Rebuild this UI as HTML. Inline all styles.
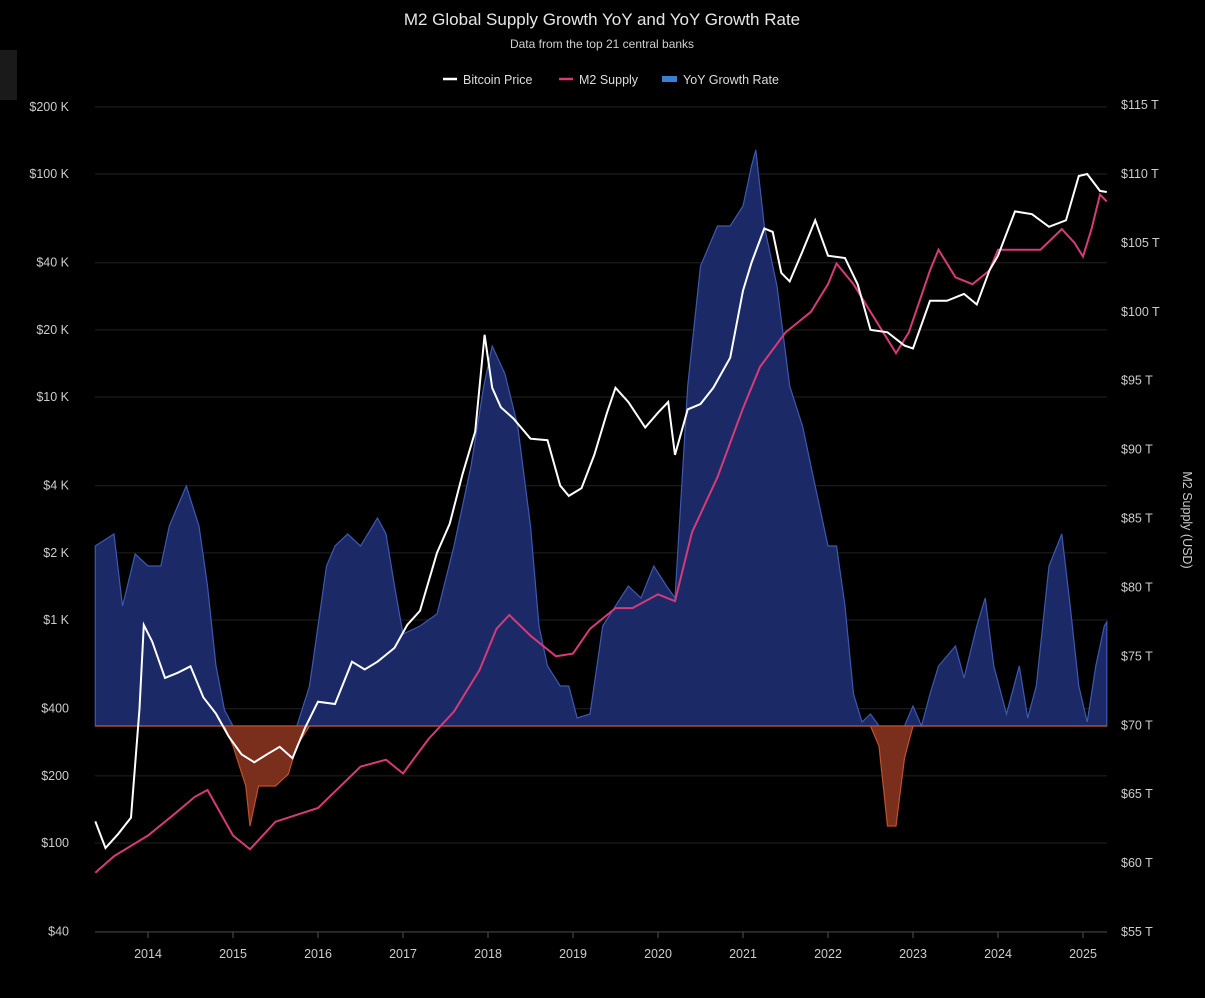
<!DOCTYPE html>
<html><head><meta charset="utf-8"><style>
html,body{margin:0;padding:0;background:#000;}
body{width:1205px;height:993px;overflow:hidden;font-family:"Liberation Sans",sans-serif;}
svg text{font-family:"Liberation Sans",sans-serif;}
</style></head><body>
<svg id="chart" width="1205" height="993" viewBox="0 0 1205 993" xmlns="http://www.w3.org/2000/svg">
<rect x="0" y="0" width="1205" height="993" fill="#000"/>
<rect x="0" y="50" width="17" height="50" fill="#1a1a1a"/>
<text x="602" y="25" fill="#e6e6e6" font-size="17" text-anchor="middle">M2 Global Supply Growth YoY and YoY Growth Rate</text>
<text x="602" y="48" fill="#cfcfcf" font-size="12" text-anchor="middle">Data from the top 21 central banks</text>
<g>
 <g><line x1="443" y1="79" x2="457" y2="79" stroke="#fff" stroke-width="2.5"/><text x="463" y="84" fill="#ddd" font-size="12.5">Bitcoin Price</text></g>
 <g><line x1="559" y1="79" x2="573" y2="79" stroke="#d63a78" stroke-width="2.5"/><text x="579" y="84" fill="#ddd" font-size="12.5">M2 Supply</text></g>
 <g><rect x="662" y="76" width="15" height="6" fill="#3a7fd0"/><text x="683" y="84" fill="#ddd" font-size="12.5">YoY Growth Rate</text></g>
</g>
<g id="grid"></g>
<g id="area"></g>
<g id="lines"></g>
<g id="axes"></g>
<text transform="translate(1183,520) rotate(90)" fill="#ccc" font-size="12.5" text-anchor="middle">M2 Supply (USD)</text>
</svg>
<script>
const leftTicks=[200000,100000,40000,20000,10000,4000,2000,1000,400,200,100,40];
const leftLabels=["$200 K","$100 K","$40 K","$20 K","$10 K","$4 K","$2 K","$1 K","$400","$200","$100","$40"];
const rightTicks=[115,110,105,100,95,90,85,80,75,70,65,60,55];
const xTicks=[2014,2015,2016,2017,2018,2019,2020,2021,2022,2023,2024,2025];
const btcT=[2013.38,2013.5,2013.65,2013.8,2013.9,2013.95,2014.05,2014.2,2014.35,2014.5,2014.65,2014.8,2014.95,2015.1,2015.25,2015.4,2015.55,2015.7,2015.85,2016.0,2016.2,2016.4,2016.55,2016.7,2016.9,2017.05,2017.2,2017.4,2017.55,2017.7,2017.85,2017.96,2018.05,2018.15,2018.3,2018.5,2018.7,2018.85,2018.95,2019.1,2019.25,2019.4,2019.5,2019.65,2019.85,2020.0,2020.12,2020.2,2020.35,2020.5,2020.65,2020.85,2021.0,2021.1,2021.25,2021.35,2021.45,2021.55,2021.7,2021.85,2022.0,2022.2,2022.35,2022.5,2022.7,2022.9,2023.0,2023.2,2023.4,2023.6,2023.75,2023.9,2024.0,2024.2,2024.4,2024.6,2024.8,2024.95,2025.05,2025.2,2025.28];
const btcV=[125,95,110,130,400,950,800,550,580,620,450,380,300,250,230,250,270,240,330,430,420,650,600,650,750,950,1100,2000,2700,4500,7000,19000,11000,9000,8000,6500,6400,4000,3600,3900,5500,8500,11000,9500,7300,8500,9500,5500,8800,9300,11000,15000,30000,40000,57000,55000,36000,33000,45000,62000,43000,42000,32000,20000,19500,17000,16500,27000,27000,29000,26000,37000,43000,68000,66000,58000,62000,98000,100000,84000,83000];
const m2T=[2013.38,2013.6,2014.0,2014.3,2014.55,2014.7,2015.0,2015.2,2015.5,2016.0,2016.5,2016.8,2017.0,2017.3,2017.6,2017.9,2018.1,2018.25,2018.5,2018.8,2019.0,2019.2,2019.5,2019.7,2020.0,2020.2,2020.4,2020.7,2021.0,2021.2,2021.5,2021.8,2022.0,2022.1,2022.3,2022.5,2022.7,2022.8,2022.95,2023.2,2023.3,2023.5,2023.7,2023.9,2024.0,2024.2,2024.5,2024.75,2024.9,2025.0,2025.1,2025.2,2025.28];
const m2V=[59.3,60.5,62,63.5,64.8,65.3,62,61,63,64,67,67.5,66.5,69,71,74,77,78,76.5,75,75.2,77,78.5,78.5,79.5,79,84,88,93,96,98.5,100,102,103.5,102,100,98,97,98.5,103,104.5,102.5,102,103,104.5,104.5,104.5,106,105,104,106,108.5,108];
const yoyT=[2013.38,2013.6,2013.7,2013.85,2014.0,2014.15,2014.25,2014.35,2014.45,2014.6,2014.7,2014.8,2014.9,2015.0,2015.15,2015.2,2015.3,2015.5,2015.65,2015.75,2015.9,2016.0,2016.1,2016.2,2016.35,2016.5,2016.7,2016.8,2016.9,2017.0,2017.2,2017.4,2017.6,2017.8,2017.95,2018.05,2018.2,2018.35,2018.5,2018.6,2018.7,2018.85,2018.95,2019.05,2019.2,2019.35,2019.5,2019.65,2019.8,2019.95,2020.1,2020.2,2020.35,2020.5,2020.7,2020.85,2021.0,2021.1,2021.15,2021.25,2021.4,2021.55,2021.7,2021.85,2022.0,2022.1,2022.2,2022.3,2022.4,2022.5,2022.6,2022.7,2022.8,2022.9,2023.0,2023.1,2023.2,2023.3,2023.5,2023.6,2023.75,2023.85,2023.95,2024.1,2024.25,2024.35,2024.45,2024.6,2024.75,2024.85,2024.95,2025.05,2025.15,2025.25,2025.28];
const yoyV=[4.5,4.8,3.0,4.3,4.0,4.0,5.0,5.5,6.0,5.0,3.5,1.5,0.4,-0.5,-1.5,-2.5,-1.5,-1.5,-1.2,-0.5,1.0,2.5,4.0,4.5,4.8,4.5,5.2,4.8,3.5,2.3,2.5,2.8,4.5,6.5,8.5,9.5,8.8,7.5,5.0,2.5,1.5,1.0,1.0,0.2,0.3,2.5,3.0,3.5,3.2,4.0,3.5,3.2,8.5,11.5,12.5,12.5,13.0,14.0,14.4,12.5,11.0,8.5,7.5,6.0,4.5,4.5,3.0,0.8,0.1,0.3,-0.5,-2.5,-2.5,-0.8,0.5,0,0.8,1.5,2.0,1.2,2.5,3.2,1.5,0.3,1.5,0.2,1.0,4.0,4.8,3.0,1.0,0.1,1.5,2.5,2.6];

const NS="http://www.w3.org/2000/svg";
const X0=95,X1=1107;
const xS=t=>148+(t-2014)*85;
const yL=v=>843-223*Math.log10(v/100);
const yR=v=>105+(115-v)*(827/60);
const yG=g=>726-g*40;
function mk(tag,attrs,parent){const e=document.createElementNS(NS,tag);for(const k in attrs)e.setAttribute(k,attrs[k]);parent.appendChild(e);return e;}
const grid=document.getElementById('grid'),axes=document.getElementById('axes'),area=document.getElementById('area'),lines=document.getElementById('lines');
leftTicks.forEach((v,i)=>{
 const y=yL(v);
 const g=mk('line',{x1:X0,x2:X1,y1:y,y2:y,stroke:'#222','stroke-width':1},grid);
 
 
 const t=mk('text',{x:69,y:y+4,fill:'#ccc','font-size':12.5,'text-anchor':'end'},axes);
 t.textContent=leftLabels[i];
 
 
});
rightTicks.forEach(v=>{
 const y=yR(v);
 const t=mk('text',{x:1121,y:y+4,fill:'#ccc','font-size':12.5},axes);
 t.textContent='$'+v+' T';
 
 
});
xTicks.forEach(yr=>{
 const x=xS(yr);
 mk('line',{x1:x,x2:x,y1:932,y2:938,stroke:'#555'},axes);
 const t=mk('text',{x:x,y:958,fill:'#ccc','font-size':12.5,'text-anchor':'middle'},axes);
 t.textContent=yr;
 
 
});
mk('line',{x1:X0,x2:X1,y1:932,y2:932,stroke:'#444'},axes);
function areaPath(sign){
 let d='M'+xS(yoyT[0])+','+yG(0);
 for(let i=0;i<yoyT.length;i++){
  const v=sign>0?Math.max(0,yoyV[i]):Math.min(0,yoyV[i]);
  d+=' L'+xS(yoyT[i]).toFixed(1)+','+yG(v).toFixed(1);
 }
 d+=' L'+xS(yoyT[yoyT.length-1])+','+yG(0)+' Z';
 return d;
}
const pos=mk('path',{d:areaPath(1),fill:'#1b2a66',stroke:'#3e58b0','stroke-width':1.2},area);


const neg=mk('path',{d:areaPath(-1),fill:'#7a2e1c',stroke:'#c0502e','stroke-width':1.2},area);


function linePath(T,V,f){return T.map((t,i)=>(i?'L':'M')+xS(t).toFixed(1)+','+f(V[i]).toFixed(1)).join(' ');}
const m2=mk('path',{d:linePath(m2T,m2V,yR),fill:'none',stroke:'#d63a78','stroke-width':2},lines);


const btc=mk('path',{d:linePath(btcT,btcV,yL),fill:'none',stroke:'#ffffff','stroke-width':2},lines);


</script>
</body></html>
